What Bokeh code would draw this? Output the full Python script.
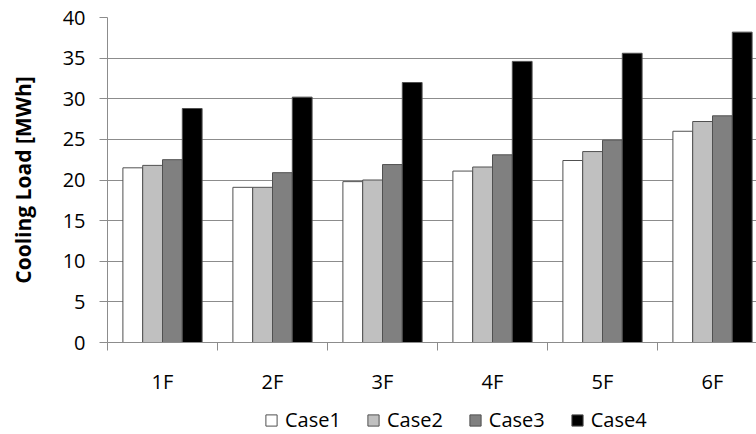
from bokeh.plotting import figure
from bokeh.layouts import column
from bokeh.models import (ColumnDataSource, Range1d, FixedTicker, Legend, LegendItem)
from bokeh.embed import file_html
from bokeh.resources import INLINE

# Cooling load per floor [MWh] for four cases
floors = ["1F", "2F", "3F", "4F", "5F", "6F"]
case1 = [21.5, 19.1, 19.8, 21.1, 22.4, 26.0]
case2 = [21.8, 19.1, 20.0, 21.6, 23.5, 27.2]
case3 = [22.5, 20.9, 21.9, 23.1, 24.9, 27.9]
case4 = [28.8, 30.2, 32.0, 34.6, 35.6, 38.2]
case_names = ["Case1", "Case2", "Case3", "Case4"]
y_ticks = [0, 5, 10, 15, 20, 25, 30, 35, 40]

fills = ["#ffffff", "#c0c0c0", "#808080", "#000000"]
EDGE = "#505050"
FONT = "Open Sans"
GRID = "#8c8c8c"

p = figure(frame_width=649, frame_height=325, output_backend="svg", toolbar_location=None,
           x_range=Range1d(0, 5.9), y_range=Range1d(0, 40),
           min_border_left=107, min_border_right=0, min_border_top=17,
           min_border_bottom=53)
p.outline_line_color = None
p.background_fill_color = "white"
p.border_fill_color = "white"

centers = [i + 0.5 for i in range(len(floors))]
bar_w = 0.18
offsets = [-1.5 * bar_w, -0.5 * bar_w, 0.5 * bar_w, 1.5 * bar_w]

for vals, off, col in zip([case1, case2, case3, case4], offsets, fills):
    src = ColumnDataSource(dict(x=[c + off for c in centers], top=vals))
    p.vbar(x="x", top="top", width=bar_w, bottom=0, source=src,
           fill_color=col, line_color=EDGE, line_width=1)

# y axis
p.yaxis.ticker = FixedTicker(ticks=y_ticks)
p.yaxis.axis_line_color = GRID
p.yaxis.major_tick_line_color = GRID
p.yaxis.major_tick_out = 8
p.yaxis.major_tick_in = 0
p.yaxis.minor_tick_line_color = None
p.yaxis.major_label_standoff = 14
p.yaxis.major_label_text_font = FONT
p.yaxis.major_label_text_font_size = "20px"
p.yaxis.major_label_text_color = "#000000"
p.yaxis.axis_label = "Cooling Load [MWh]"
p.yaxis.axis_label_text_font = FONT
p.yaxis.axis_label_text_font_style = "bold"
p.yaxis.axis_label_text_font_size = "21px"
p.yaxis.axis_label_text_color = "#000000"
p.yaxis.axis_label_standoff = 23

# x axis: labels at floor centres, tick marks at floor boundaries
p.xaxis.ticker = FixedTicker(ticks=centers, minor_ticks=list(range(0, 7)))
p.xaxis.major_label_overrides = {c: f for c, f in zip(centers, floors)}
p.xaxis.axis_line_color = GRID
p.xaxis.major_tick_line_color = None
p.xaxis.major_tick_out = 0
p.xaxis.major_tick_in = 0
p.xaxis.minor_tick_line_color = GRID
p.xaxis.minor_tick_out = 8
p.xaxis.minor_tick_in = 0
p.xaxis.major_label_standoff = 17
p.xaxis.major_label_text_font = FONT
p.xaxis.major_label_text_font_size = "20px"
p.xaxis.major_label_text_color = "#000000"

p.xgrid.grid_line_color = None
p.ygrid.grid_line_color = GRID
p.ygrid.ticker = FixedTicker(ticks=y_ticks)

# legend strip under the chart; its key glyphs sit outside the visible range
leg = figure(width=756, height=39, output_backend="svg", toolbar_location=None,
             x_range=Range1d(0, 1), y_range=Range1d(0, 1),
             x_axis_type=None, y_axis_type=None,
             min_border_left=0, min_border_right=0, min_border_top=0, min_border_bottom=0)
leg.outline_line_color = None
leg.xgrid.visible = False
leg.ygrid.visible = False
keys = []
for col in fills:
    keys.append(leg.vbar(x=[-5], top=[-5], bottom=[-6], width=0.1, fill_color=col,
                         line_color=EDGE, line_width=1))

legend = Legend(items=[LegendItem(label=n, renderers=[r]) for n, r in zip(case_names, keys)],
                orientation="horizontal", location=(157, 3),
                glyph_width=14, glyph_height=14, label_standoff=7, spacing=25,
                padding=0, margin=0, border_line_color=None, background_fill_alpha=0,
                label_text_font=FONT, label_text_font_size="20px",
                label_text_color="#000000")
leg.add_layout(legend, "center")

layout = column(p, leg, spacing=0)
open("out.html", "w").write(file_html(layout, INLINE))
